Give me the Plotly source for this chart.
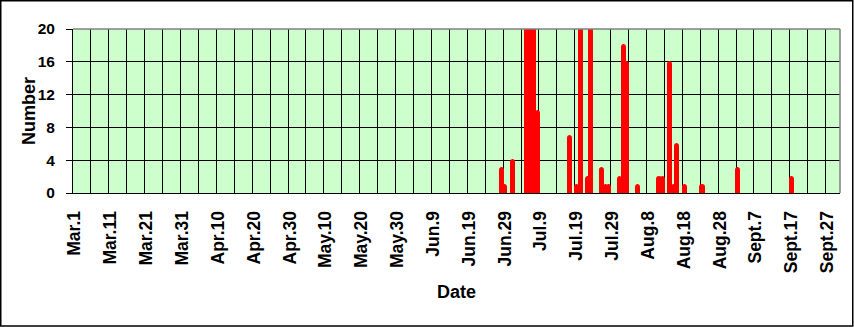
import pandas as pd
import plotly.graph_objects as go

# ---- data ----
season_start = "2001-03-01"
season_end = "2001-09-30"
tick_labels = ["Mar.1", "Mar.11", "Mar.21", "Mar.31", "Apr.10", "Apr.20", "Apr.30",
               "May.10", "May.20", "May.30", "Jun.9", "Jun.19", "Jun.29", "Jul.9",
               "Jul.19", "Jul.29", "Aug.8", "Aug.18", "Aug.28", "Sept.7", "Sept.17",
               "Sept.27"]
tick_dates = ["03-01", "03-11", "03-21", "03-31", "04-10", "04-20", "04-30",
              "05-10", "05-20", "05-30", "06-09", "06-19", "06-29", "07-09",
              "07-19", "07-29", "08-08", "08-18", "08-28", "09-07", "09-17",
              "09-27"]
obs_dates = ["06-28", "06-29", "07-01", "07-05", "07-06", "07-07", "07-08",
             "07-17", "07-19", "07-20", "07-22", "07-23", "07-26", "07-27",
             "07-28", "07-31", "08-01", "08-02", "08-05", "08-11", "08-12",
             "08-14", "08-15", "08-16", "08-18", "08-23", "09-02", "09-17"]
counts = [3, 1, 4, 24, 24, 24, 10,
          7, 1, 24, 2, 24, 3, 1,
          1, 2, 18, 16, 1, 2, 2,
          16, 1, 6, 1, 1, 3, 2]

# ---- category positions (one category per day) ----
start = pd.Timestamp(season_start)
n_days = (pd.Timestamp(season_end) - start).days + 1


def day_index(md):
    return (pd.Timestamp("2001-" + md) - start).days


x_obs = [day_index(d) for d in obs_dates]
tick_vals = [day_index(d) for d in tick_dates]

FONT = "Liberation Sans, Arial, sans-serif"

fig = go.Figure()
fig.add_trace(go.Bar(
    x=x_obs, y=counts, width=0.85,
    marker=dict(color="#FF0000", line=dict(color="#FF0000", width=2), cornerradius=2),
    showlegend=False, hoverinfo="x+y",
))

L, R, T, B = 73, 14, 29, 134
W, H = 854, 327
pw, ph = W - L - R, H - T - B

fig.update_layout(
    width=W, height=H,
    margin=dict(l=L, r=R, t=T, b=B, pad=0),
    paper_bgcolor="white",
    plot_bgcolor="#CCFFCC",
    font=dict(family=FONT, color="black"),
    bargap=0,
    xaxis=dict(
        range=[-0.5, n_days - 0.5],
        tickmode="array", tickvals=tick_vals, ticktext=tick_labels,
        tickangle=-90, tickfont=dict(size=17.5, weight="bold", family=FONT),
        showgrid=False, zeroline=False,
        showline=True, linecolor="black", linewidth=1,
        ticks="", ticklabelstandoff=10,
        minor=dict(tick0=-0.5, dtick=5, showgrid=True, gridcolor="black", gridwidth=1, ticks=""),
    ),
    yaxis=dict(
        range=[0, 20], tickmode="linear", tick0=0, dtick=4,
        tickfont=dict(size=15.5, weight="bold", family=FONT),
        showgrid=True, gridcolor="black", gridwidth=1, zeroline=False,
        showline=True, linecolor="black", linewidth=1,
        ticks="outside", ticklen=6, tickcolor="black", tickwidth=1,
        ticklabelstandoff=8,
    ),
    shapes=[
        dict(type="line", xref="paper", yref="paper", x0=0, x1=1, y0=1, y1=1,
             line=dict(color="#808080", width=1.5), layer="above"),
        dict(type="line", xref="paper", yref="paper", x0=1, x1=1, y0=0, y1=1,
             line=dict(color="#808080", width=1.5), layer="above"),
        dict(type="rect", xref="paper", yref="paper",
             x0=(0.75 - L) / pw, x1=(852.75 - L) / pw,
             y0=(H - T - B - (326 - T)) / ph, y1=(H - T - B + T - 0.75) / ph,
             line=dict(color="black", width=1.5), fillcolor="rgba(0,0,0,0)", layer="above"),
    ],
    annotations=[
        dict(text="Number", xref="paper", yref="paper",
             x=(29 - L) / pw, y=0.5, textangle=-90, showarrow=False,
             xanchor="center", yanchor="middle",
             font=dict(size=18, weight="bold", family=FONT)),
        dict(text="Date", xref="paper", yref="paper",
             x=0.5, y=(T + ph - 292) / ph, showarrow=False,
             xanchor="center", yanchor="middle",
             font=dict(size=18, weight="bold", family=FONT)),
    ],
)

fig.write_html("out.html")
